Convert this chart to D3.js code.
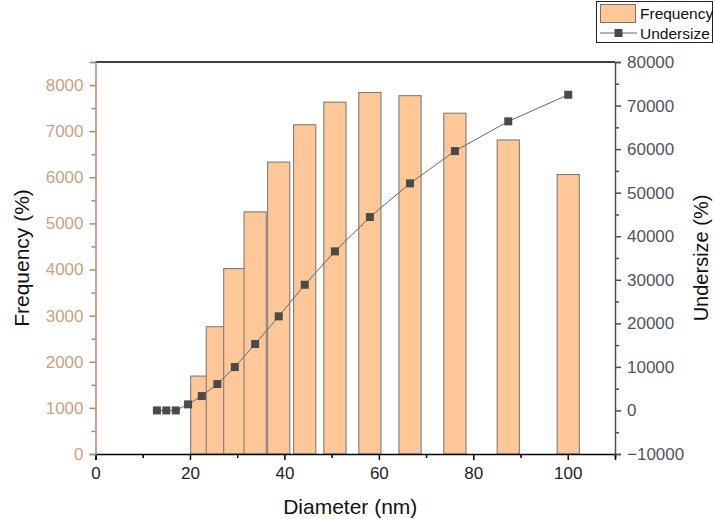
<!DOCTYPE html>
<html>
<head>
<meta charset="utf-8">
<script src="https://cdn.jsdelivr.net/npm/d3@7"></script>
<style>
  html, body { margin: 0; padding: 0; background: #fff; }
  svg { display: block; }
  text { font-family: "Liberation Sans", Arial, sans-serif; }
</style>
</head>
<body>
<svg id="chart" width="714" height="519"></svg>
<script>
// Particle size distribution: bin diameters (nm)
const diameters = [13, 15, 17, 19.6, 22.5, 25.8, 29.5, 33.8, 38.8, 44.3, 50.7, 58.1, 66.6, 76.1, 87.4, 100.1];
// Frequency bars (left axis), one per bin from 22.5 nm upward
const barDiameters = [22.5, 25.8, 29.5, 33.8, 38.8, 44.3, 50.7, 58.1, 66.6, 76.1, 87.4, 100.1];
const frequency = [1690, 2760, 4020, 5250, 6330, 7140, 7630, 7840, 7770, 7390, 6810, 6060];
// Cumulative undersize (right axis)
const undersize = [0, 0, 0, 1400, 3300, 6060, 9960, 15240, 21600, 28860, 36520, 44400, 52140, 59550, 66370, 72480];

const xTicks = [0, 20, 40, 60, 80, 100];
const leftTicks = [0, 1000, 2000, 3000, 4000, 5000, 6000, 7000, 8000];
const rightTicks = [-10000, 0, 10000, 20000, 30000, 40000, 50000, 60000, 70000, 80000];

const svg = d3.select("#chart");
const L = 95.5, R = 615, T = 62, B = 454;

const x = d3.scaleLinear().domain([0, 110]).range([L, R]);
const yL = d3.scaleLinear().domain([0, 8500]).range([B, T]);
const yR = d3.scaleLinear().domain([-10000, 80000]).range([B, T]);

const barColor = "#fdc797";
const leftColor = "#b08a68";
const leftText = "#c9a27f";
const rightColor = "#4f4f4f";
const rightText = "#4d5565";

// Bars: constant width, drawn in order so each later bar sits over its neighbour
const barW = 4.7;
svg.append("g").selectAll("rect")
  .data(barDiameters.map((d, i) => ({ d, v: frequency[i] })))
  .join("rect")
  .attr("x", p => x(p.d - barW / 2))
  .attr("width", p => x(p.d + barW / 2) - x(p.d - barW / 2))
  .attr("y", p => yL(p.v))
  .attr("height", p => yL(0) - yL(p.v))
  .attr("fill", barColor)
  .attr("stroke", "#747474")
  .attr("stroke-width", 1);

// Undersize line and square markers
const pts = diameters.map((d, i) => [d, undersize[i]]);
svg.append("path")
  .datum(pts)
  .attr("d", d3.line().x(p => x(p[0])).y(p => yR(p[1])))
  .attr("fill", "none")
  .attr("stroke", "#6a6a6a")
  .attr("stroke-width", 1);
svg.append("g").selectAll("rect")
  .data(pts)
  .join("rect")
  .attr("x", p => x(p[0]) - 4)
  .attr("y", p => yR(p[1]) - 4)
  .attr("width", 8)
  .attr("height", 8)
  .attr("fill", "#4a4a4a");

// Bottom axis
const xAxis = d3.axisBottom(x).tickValues(xTicks).tickSize(6).tickPadding(7).tickFormat(d3.format("d"));
const gx = svg.append("g").attr("transform", `translate(0,${B})`).call(xAxis);
gx.select(".domain").attr("stroke", "#000").attr("stroke-width", 1.5);
gx.selectAll(".tick line").attr("stroke", "#000").attr("stroke-width", 1.5);
gx.selectAll(".tick text").attr("font-size", 17).attr("fill", "#222").attr("font-family", "Liberation Sans, Arial, sans-serif");
const gxm = svg.append("g").attr("transform", `translate(0,${B})`)
  .call(d3.axisBottom(x).tickValues([10, 30, 50, 70, 90, 110]).tickSize(4).tickFormat(""));
gxm.select(".domain").remove();
gxm.selectAll(".tick line").attr("stroke", "#000").attr("stroke-width", 1.5);

// Top frame line
svg.append("line").attr("x1", L).attr("x2", R).attr("y1", T).attr("y2", T)
  .attr("stroke", "#000").attr("stroke-width", 1.5);

// Left axis
const gl = svg.append("g").attr("transform", `translate(${L},0)`)
  .call(d3.axisLeft(yL).tickValues(leftTicks).tickSize(6).tickPadding(6).tickFormat(d3.format("d")));
gl.select(".domain").attr("stroke", leftColor).attr("stroke-width", 1.5);
gl.selectAll(".tick line").attr("stroke", leftColor).attr("stroke-width", 1.5);
gl.selectAll(".tick text").attr("font-size", 17).attr("fill", leftText).attr("font-family", "Liberation Sans, Arial, sans-serif");
const glm = svg.append("g").attr("transform", `translate(${L},0)`)
  .call(d3.axisLeft(yL).tickValues(d3.range(500, 8600, 1000)).tickSize(4).tickFormat(""));
glm.select(".domain").remove();
glm.selectAll(".tick line").attr("stroke", leftColor).attr("stroke-width", 1.5);

// Right axis
const gr = svg.append("g").attr("transform", `translate(${R},0)`)
  .call(d3.axisRight(yR).tickValues(rightTicks).tickSize(6).tickPadding(6).tickFormat(d => d < 0 ? "\u2212" + Math.abs(d) : d));
gr.select(".domain").attr("stroke", rightColor).attr("stroke-width", 1.5);
gr.selectAll(".tick line").attr("stroke", rightColor).attr("stroke-width", 1.5);
gr.selectAll(".tick text").attr("font-size", 17).attr("fill", rightText).attr("font-family", "Liberation Sans, Arial, sans-serif");
const grm = svg.append("g").attr("transform", `translate(${R},0)`)
  .call(d3.axisRight(yR).tickValues(d3.range(-5000, 80000, 10000)).tickSize(4).tickFormat(""));
grm.select(".domain").remove();
grm.selectAll(".tick line").attr("stroke", rightColor).attr("stroke-width", 1.5);

// Axis titles
svg.append("text").attr("x", (L + R) / 2 - 5).attr("y", 514).attr("text-anchor", "middle")
  .attr("font-size", 21).attr("fill", "#111").text("Diameter (nm)");
svg.append("text").attr("transform", `translate(29,${(T + B) / 2}) rotate(-90)`).attr("text-anchor", "middle")
  .attr("font-size", 21).attr("fill", "#111").text("Frequency (%)");
svg.append("text").attr("transform", `translate(708,${(T + B) / 2}) rotate(-90)`).attr("text-anchor", "middle")
  .attr("font-size", 20).attr("fill", "#111").text("Undersize (%)");

// Legend
const lg = svg.append("g");
lg.append("rect").attr("x", 596.5).attr("y", 1.5).attr("width", 116).attr("height", 41)
  .attr("fill", "#fff").attr("stroke", "#222").attr("stroke-width", 1);
lg.append("rect").attr("x", 600.5).attr("y", 4.5).attr("width", 35).attr("height", 18)
  .attr("fill", barColor).attr("stroke", "#747474");
lg.append("text").attr("x", 640).attr("y", 19).attr("font-size", 15.5).attr("fill", "#111").text("Frequency");
lg.append("line").attr("x1", 600).attr("x2", 637).attr("y1", 33).attr("y2", 33)
  .attr("stroke", "#6a6a6a").attr("stroke-width", 1);
lg.append("rect").attr("x", 614.5).attr("y", 29).attr("width", 8).attr("height", 8).attr("fill", "#4a4a4a");
lg.append("text").attr("x", 640).attr("y", 39).attr("font-size", 15.5).attr("fill", "#111").text("Undersize");
</script>
</body>
</html>
